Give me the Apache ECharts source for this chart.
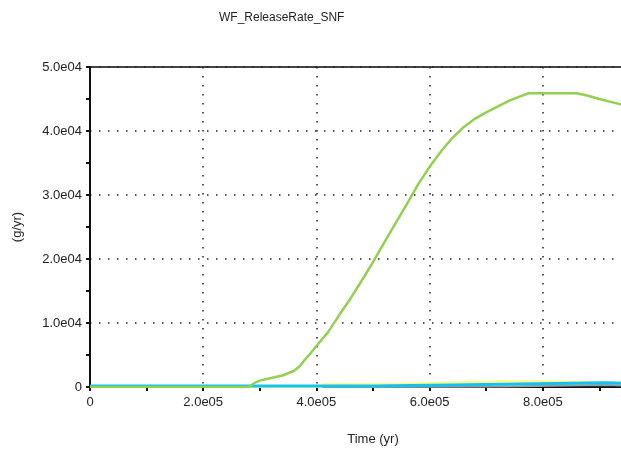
<!DOCTYPE html>
<html>
<head>
<meta charset="utf-8">
<script src="https://cdn.jsdelivr.net/npm/echarts@6/dist/echarts.min.js"></script>
<style>
  html, body { margin: 0; padding: 0; background: #fff; }
  #chart { width: 621px; height: 455px; }
</style>
</head>
<body>
<div id="chart"></div>
<script>
// Release rate over time (g/yr)
const greenTime = [0, 2.0e5, 2.8e5, 2.9e5, 3.0e5, 3.2e5, 3.4e5, 3.6e5, 3.7e5, 3.8e5, 3.9e5, 4.0e5,
  4.2e5, 4.4e5, 4.6e5, 4.8e5, 5.0e5, 5.2e5, 5.4e5, 5.6e5, 5.8e5, 6.0e5, 6.2e5, 6.4e5, 6.6e5,
  6.8e5, 7.0e5, 7.2e5, 7.4e5, 7.6e5, 7.75e5, 8.6e5, 8.8e5, 9.0e5, 9.2e5, 9.4e5, 9.6e5];
const greenRate = [0, 0, 0, 600, 1000, 1400, 1800, 2500, 3200, 4300, 5300, 6400,
  8500, 11200, 13800, 16600, 19500, 22600, 25600, 28600, 31700, 34400, 36800, 38900, 40600,
  41900, 42900, 43800, 44700, 45400, 45900, 45900, 45500, 45000, 44550, 44100, 43700];

// Smaller stepwise contributions
const cyanTime = [0, 5.0e5, 7.3e5, 9.1e5, 1.0e6];
const cyanRate = [150, 420, 670, 420, 420];
const yellowTime = [0, 4.1e5, 5.5e5, 6.4e5, 7.3e5, 9.1e5, 1.0e6];
const yellowRate = [0, 450, 730, 880, 780, 690, 690];
const grayTime = [0, 5.0e5, 7.3e5, 9.1e5, 1.0e6];
const grayRate = [0, 80, 320, 80, 80];

const xTickMax = 1.0e6;
const yTickMax = 5.0e4;

function sci(v) {
  if (v === 0) return '0';
  const e = Math.floor(Math.log10(Math.abs(v)) + 1e-9);
  const m = v / Math.pow(10, e);
  return m.toFixed(1) + 'e' + (e < 10 ? '0' : '') + e;
}

function pairs(t, v) { return t.map((x, i) => [x, v[i]]); }

const font = 'Liberation Sans, Arial, sans-serif';
const textColor = '#222';
const dotted = { color: '#222', width: 1.5, type: [1.5, 7.5] };

const chart = echarts.init(document.getElementById('chart'), null, { renderer: 'canvas' });
chart.setOption({
  animation: false,
  backgroundColor: '#fff',
  title: {
    text: 'WF_ReleaseRate_SNF',
    left: 214, top: 7,
    textStyle: { fontFamily: font, fontSize: 12, fontWeight: 'normal', color: textColor }
  },
  grid: {
    left: 90, top: 67, width: 566, height: 320,
    outerBoundsMode: 'none', containLabel: false,
    show: true, borderColor: '#444', borderWidth: 2, backgroundColor: 'transparent'
  },
  xAxis: {
    type: 'value', min: 0, max: xTickMax, interval: 2.0e5,
    name: 'Time (yr)', nameLocation: 'middle', nameGap: 46,
    nameTextStyle: { fontFamily: font, fontSize: 13, color: textColor },
    axisLine: { show: true, onZero: false, lineStyle: { color: '#111', width: 2 } },
    axisTick: { show: true, length: 4, lineStyle: { color: '#111', width: 2 } },
    minorTick: { show: true, splitNumber: 2, length: 4, lineStyle: { color: '#111', width: 2 } },
    axisLabel: {
      fontFamily: font, fontSize: 13, color: textColor, margin: 9,
      formatter: v => (v >= xTickMax ? '' : sci(v))
    },
    splitLine: { show: true, lineStyle: dotted },
    minorSplitLine: { show: false }
  },
  yAxis: {
    type: 'value', min: 0, max: yTickMax, interval: 1.0e4,
    name: '(g/yr)', nameLocation: 'middle', nameGap: 66, nameRotate: 90,
    nameTextStyle: { fontFamily: font, fontSize: 13, color: textColor },
    axisLine: { show: true, lineStyle: { color: '#111', width: 2 } },
    axisTick: { show: true, length: 4, lineStyle: { color: '#111', width: 2 } },
    minorTick: { show: true, splitNumber: 2, length: 4, lineStyle: { color: '#111', width: 2 } },
    axisLabel: { fontFamily: font, fontSize: 13, color: textColor, margin: 8, formatter: sci },
    splitLine: { show: true, lineStyle: dotted },
    minorSplitLine: { show: false }
  },
  series: [
    { type: 'line', step: 'end', data: pairs(grayTime, grayRate), showSymbol: false,
      lineStyle: { color: '#9a9a9a', width: 2 }, z: 2 },
    { type: 'line', step: 'end', data: pairs(yellowTime, yellowRate), showSymbol: false,
      lineStyle: { color: '#ffff80', width: 2 }, z: 3 },
    { type: 'line', step: 'end', data: pairs(cyanTime, cyanRate), showSymbol: false,
      lineStyle: { color: '#12c2f2', width: 3 }, z: 4 },
    { type: 'line', data: pairs(greenTime, greenRate), showSymbol: false,
      lineStyle: { color: '#92d050', width: 2.5 }, z: 5 }
  ]
});
</script>
</body>
</html>
